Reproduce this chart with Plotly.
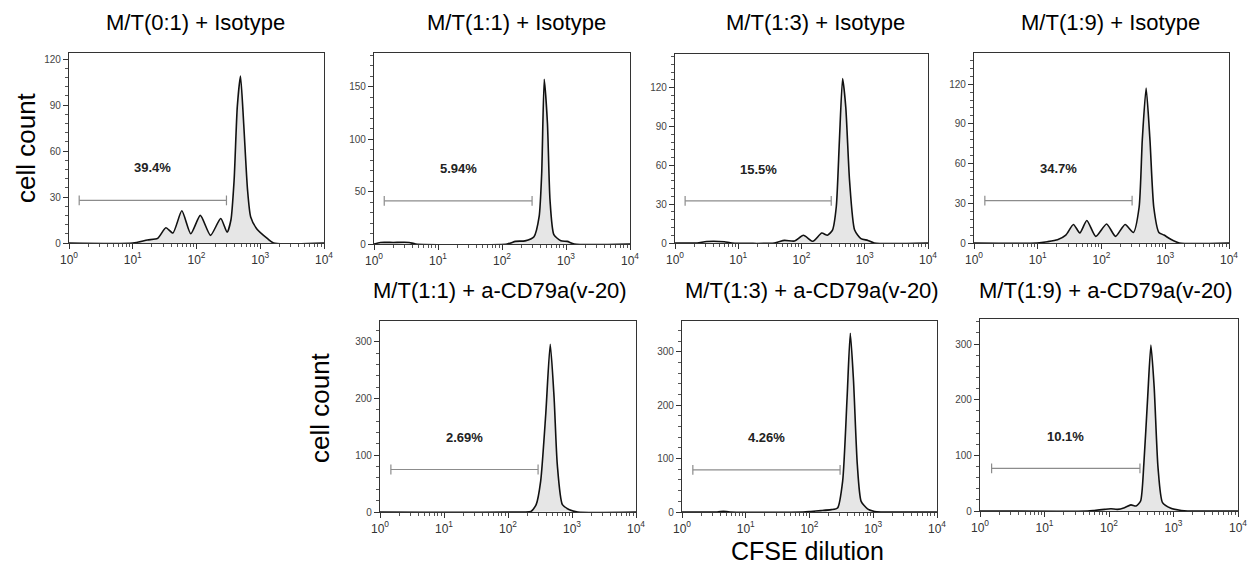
import plotly.graph_objects as go

# panel titles
titles = ["M/T(0:1) + Isotype", "M/T(1:1) + Isotype", "M/T(1:3) + Isotype", "M/T(1:9) + Isotype",
          "M/T(1:1) + a-CD79a(v-20)", "M/T(1:3) + a-CD79a(v-20)", "M/T(1:9) + a-CD79a(v-20)"]

# CFSE histograms: log10 intensity and cell count
cfse_p1 = [0.0, 1.0, 1.23, 1.39, 1.52, 1.63, 1.77, 1.91, 2.06, 2.22, 2.38, 2.48, 2.54, 2.59, 2.64, 2.69, 2.74, 2.80, 2.85, 2.95, 3.11, 3.21, 4.0]
count_p1 = [0, 0, 2, 3, 10, 6.5, 21, 6, 18, 5, 16, 7, 15, 41, 89, 109, 78, 35, 17, 9, 3, 0, 0]

cfse_p2 = [0.0, 0.1, 0.3, 0.55, 0.65, 2.08, 2.21, 2.36, 2.5, 2.58, 2.62, 2.66, 2.71, 2.75, 2.81, 2.92, 3.02, 3.13, 4.0]
count_p2 = [0, 1.5, 1.5, 1.5, 0, 0, 2.5, 3, 7, 26, 67, 157, 115, 42, 9, 3, 2.5, 0, 0]

cfse_p3 = [0.0, 0.35, 0.5, 0.78, 0.9, 1.57, 1.73, 1.89, 2.03, 2.18, 2.32, 2.41, 2.49, 2.55, 2.6, 2.65, 2.7, 2.76, 2.84, 2.94, 3.05, 3.15, 4.0]
count_p3 = [0, 0, 1.2, 1, 0, 0, 2, 1.5, 6, 1.3, 7.7, 6, 10, 28, 80, 127, 105, 48, 10, 3.4, 2, 0, 0]

cfse_p4 = [0.0, 0.99, 1.15, 1.31, 1.44, 1.56, 1.66, 1.77, 1.91, 2.08, 2.22, 2.37, 2.5, 2.59, 2.64, 2.7, 2.76, 2.82, 2.9, 2.98, 3.08, 3.22, 4.0]
count_p4 = [0, 0, 1, 2.5, 6, 14, 7.6, 17, 5, 14.4, 5, 14, 8, 27, 78, 117, 78, 27, 8, 6, 3, 0, 0]

cfse_p5 = [0.0, 2.25, 2.36, 2.44, 2.51, 2.59, 2.66, 2.72, 2.77, 2.85, 2.96, 3.09, 4.0]
count_p5 = [0, 0, 1, 13, 54, 173, 296, 202, 84, 13, 4, 0, 0]

cfse_p6 = [0.0, 0.55, 0.65, 0.75, 1.9, 2.02, 2.18, 2.34, 2.44, 2.52, 2.59, 2.64, 2.69, 2.75, 2.81, 2.91, 3.02, 3.12, 4.0]
count_p6 = [0, 0, 1.2, 0, 0, 1, 2.5, 4.4, 7.5, 58, 215, 335, 247, 89, 20, 6, 1, 0, 0]

cfse_p7 = [0.0, 1.67, 1.77, 1.93, 2.03, 2.13, 2.24, 2.34, 2.42, 2.49, 2.54, 2.6, 2.65, 2.7, 2.76, 2.83, 2.96, 3.12, 3.22, 4.0]
count_p7 = [0, 0, 1, 3, 4, 3, 6, 11, 9, 18, 84, 205, 298, 223, 78, 15, 5, 1, 0, 0]

# gates (log10 start, log10 end, height) and their labels
gate_lo = [0.16, 0.16, 0.16, 0.17, 0.17, 0.17, 0.18]
gate_hi = [2.47, 2.47, 2.47, 2.48, 2.47, 2.48, 2.48]
gate_y = [27.8, 41, 32.5, 32, 75, 79, 76.5]
gate_pct = ["39.4%", "5.94%", "15.5%", "34.7%", "2.69%", "4.26%", "10.1%"]
pct_y = [49, 72, 57, 56, 131, 140, 134]

y_top = [124, 182, 146, 143.5, 337, 358, 345]
y_step = [30, 50, 30, 30, 100, 100, 100]

cfse = [cfse_p1, cfse_p2, cfse_p3, cfse_p4, cfse_p5, cfse_p6, cfse_p7]
counts = [count_p1, count_p2, count_p3, count_p4, count_p5, count_p6, count_p7]

# page body has an 8px margin, so the figure is a bit smaller and shifted
OFF = 8
W, H = 1257 - 2 * OFF, 575 - 2 * OFF


def px(x):
    return (x - OFF) / W


def py(y):
    return 1 - (y - OFF) / H


# pixel boxes of each plot (in page pixels): left, right, top, bottom
boxes = [(69, 324, 53, 243), (374, 630, 53, 244), (675, 928, 54, 243), (974, 1229, 53, 243),
         (380, 636, 321, 512), (682, 937, 321, 512), (980, 1238, 319, 511)]
title_pos = [(195, 22), (517, 22), (815, 22), (1110, 22), (500, 290), (812, 290), (1106, 290)]

FONT = "Liberation Sans, Arial, sans-serif"

fig = go.Figure()
minor_x = [m * 10 ** d for d in range(4) for m in range(2, 10)]

for i in range(7):
    n = "" if i == 0 else str(i + 1)
    xs = [10 ** v for v in cfse[i]]
    fig.add_trace(go.Scatter(x=xs, y=counts[i], mode="lines", fill="tozeroy",
                             fillcolor="#e6e6e6", line=dict(color="#111", width=1.6, shape="spline", smoothing=0.6),
                             xaxis="x" + n, yaxis="y" + n, showlegend=False, hoverinfo="skip"))
    fig.add_trace(go.Scatter(x=[10 ** gate_lo[i], 10 ** gate_hi[i]], y=[gate_y[i], gate_y[i]],
                             mode="lines+markers", line=dict(color="#8c8c8c", width=1.2),
                             marker=dict(symbol="line-ns-open", size=7, color="#8c8c8c", line=dict(width=1.2, color="#8c8c8c")),
                             xaxis="x" + n, yaxis="y" + n, showlegend=False, hoverinfo="skip"))
    fig.add_annotation(x=(gate_lo[i] + gate_hi[i]) / 2, y=pct_y[i], xref="x" + n, yref="y" + n,
                       text="<b>" + gate_pct[i] + "</b>", showarrow=False,
                       xanchor="center", yanchor="middle",
                       font=dict(family=FONT, size=13, color="#222"))
    l, r, t, b = boxes[i]
    fig.layout["xaxis" + n] = dict(
        type="log", range=[0, 4], domain=[px(l), px(r)], anchor="y" + n, automargin=False,
        tickvals=[1, 10, 100, 1000, 10000],
        ticktext=["10<sup>%d</sup>" % k for k in range(5)],
        ticks="outside", ticklen=5, tickcolor="#333", showline=True, linecolor="#333", linewidth=1.2,
        mirror=True, showgrid=False, zeroline=False,
        tickfont=dict(family=FONT, size=12, color="#333"),
        minor=dict(tickmode="array", tickvals=minor_x, ticks="outside", ticklen=3, tickcolor="#555", showgrid=False))
    fig.layout["yaxis" + n] = dict(
        range=[0, y_top[i]], domain=[py(b), py(t)], anchor="x" + n, automargin=False,
        dtick=y_step[i], tick0=0, ticks="outside", ticklen=5, tickcolor="#333",
        showline=True, linecolor="#333", linewidth=1.2, mirror=True, showgrid=False, zeroline=False,
        tickfont=dict(family=FONT, size=10, color="#444"),
        minor=dict(dtick=y_step[i] / 5, ticks="outside", ticklen=3, tickcolor="#555", showgrid=False))
    tx, ty = title_pos[i]
    fig.add_annotation(x=px(tx), y=py(ty), xref="paper", yref="paper", text=titles[i],
                       xanchor="center", yanchor="middle",
                       showarrow=False, font=dict(family=FONT, size=22, color="#000"))

fig.add_annotation(x=px(26), y=py(148), xref="paper", yref="paper", text="cell count", textangle=-90,
                   xanchor="center", yanchor="middle",
                   showarrow=False, font=dict(family=FONT, size=26, color="#000"))
fig.add_annotation(x=px(320), y=py(408), xref="paper", yref="paper", text="cell count", textangle=-90,
                   xanchor="center", yanchor="middle",
                   showarrow=False, font=dict(family=FONT, size=26, color="#000"))
fig.add_annotation(x=px(807), y=py(551), xref="paper", yref="paper", text="CFSE dilution",
                   xanchor="center", yanchor="middle",
                   showarrow=False, font=dict(family=FONT, size=25, color="#000"))

fig.update_layout(width=W, height=H, margin=dict(l=0, r=0, t=0, b=0), template="none",
                  plot_bgcolor="white", paper_bgcolor="white")

fig.write_html("out.html")
